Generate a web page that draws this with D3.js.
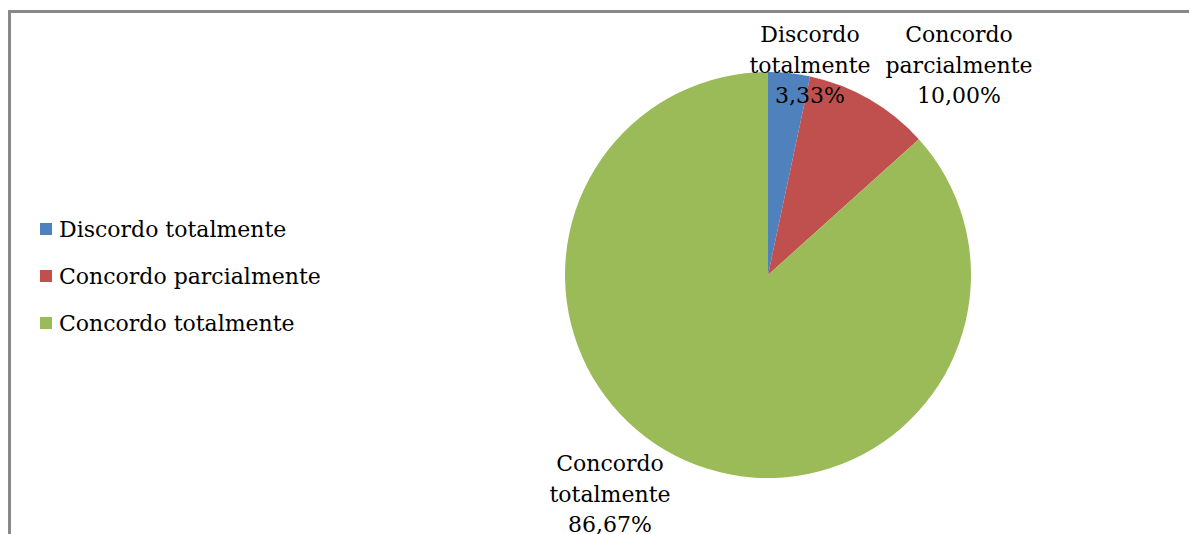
<!DOCTYPE html>
<html>
<head>
<meta charset="utf-8">
<script src="https://cdn.jsdelivr.net/npm/d3@7"></script>
<style>
  html, body { margin: 0; padding: 0; background: #fff; }
  svg { display: block; }
  text { font-family: "DejaVu Serif", "Liberation Serif", serif; fill: #000; }
</style>
</head>
<body>
<svg id="chart" width="1189" height="534"></svg>
<script>
// Survey answers and their shares (%)
const categories = ["Discordo totalmente", "Concordo parcialmente", "Concordo totalmente"];
const values = [3.33, 10.00, 86.67];
const valueLabels = ["3,33%", "10,00%", "86,67%"];
const labelLines = [["Discordo", "totalmente"], ["Concordo", "parcialmente"], ["Concordo", "totalmente"]];
const colors = ["#4F81BD", "#C0504D", "#9BBB59"];

const W = 1189, H = 534;
const svg = d3.select("#chart");

// chart frame
svg.append("rect")
  .attr("x", 9.5).attr("y", 11.5)
  .attr("width", 1200).attr("height", 600)
  .attr("fill", "none").attr("stroke", "#898989").attr("stroke-width", 3);

const cx = 768, cy = 275, r = 203;
const fontSize = 22;

const pie = d3.pie().sort(null).value(d => d.value);
const arc = d3.arc().innerRadius(0).outerRadius(r);
const data = categories.map((c, i) => ({ cat: c, value: values[i], i }));
const arcs = pie(data);

const g = svg.append("g").attr("transform", `translate(${cx},${cy})`);
g.selectAll("path.slice").data(arcs).join("path")
  .attr("class", "slice")
  .attr("d", arc)
  .attr("fill", d => colors[d.data.i]);

// data labels placed outside the slices
const labelPos = [[810, 42], [959, 42], [610, 471]];
const lineH = 30.5;
arcs.forEach((a, i) => {
  const t = svg.append("text")
    .attr("text-anchor", "middle")
    .style("font-size", fontSize + "px");
  const lines = labelLines[i].concat([valueLabels[i]]);
  lines.forEach((ln, k) => {
    t.append("tspan")
      .attr("x", labelPos[i][0])
      .attr("y", labelPos[i][1] + k * lineH)
      .text(ln);
  });
});

// legend
const legend = svg.append("g").attr("transform", "translate(40,229)");
categories.forEach((c, i) => {
  const row = legend.append("g").attr("transform", `translate(0,${i * 47})`);
  row.append("rect").attr("x", 0).attr("y", -6).attr("width", 12).attr("height", 12)
    .attr("fill", colors[i]);
  row.append("text").attr("x", 19).attr("y", 8)
    .style("font-size", fontSize + "px").text(c);
});
</script>
</body>
</html>
